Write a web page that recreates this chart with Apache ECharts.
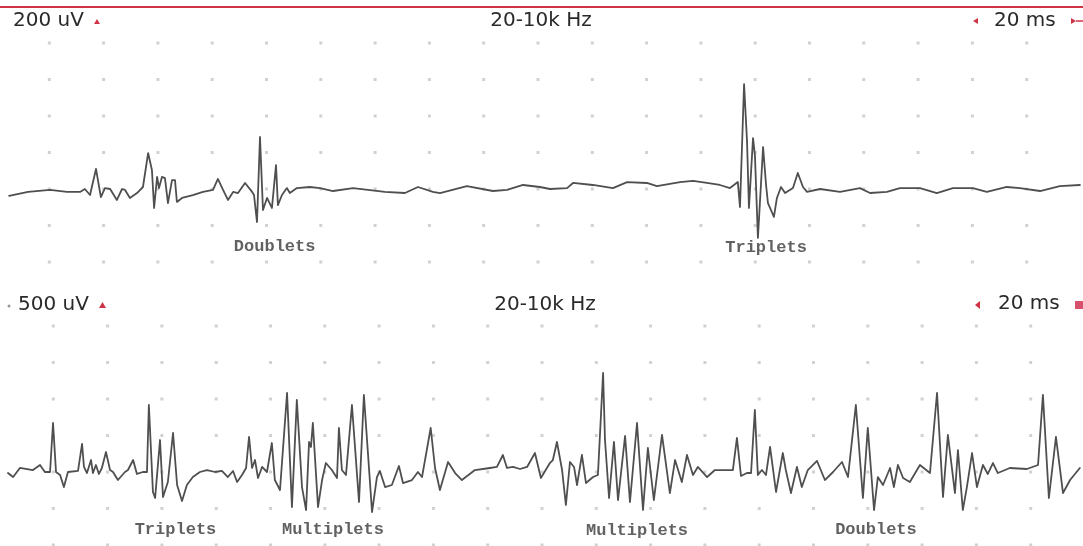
<!DOCTYPE html>
<html>
<head>
<meta charset="utf-8">
<script src="https://cdn.jsdelivr.net/npm/echarts@6/dist/echarts.min.js"></script>
<style>
  html, body { margin: 0; background: #fff; }
  #chart { width: 1083px; height: 546px; }
</style>
</head>
<body>
<div id="chart"></div>
<script>
// upper sweep: [time ms, amplitude uV], 200 uV/div, 20 ms/div
const topTrace = [
  [5.2,-38],[12.2,-16],[20.3,-5],[26.5,-16],[31.3,-16],[33.1,0],[35.0,-33],[37.2,110],[39.0,-44],
  [40.5,5],[42.4,0],[44.9,-60],[46.8,0],[47.9,-5],[49.7,-49],[52.3,-22],[54.5,11],[56.4,197],
  [57.8,104],[58.6,-104],[59.7,66],[60.4,5],[61.5,66],[62.6,60],[63.7,-77],[65.2,49],[66.3,49],
  [67.0,-71],[68.9,-49],[72.9,-33],[76.6,-16],[80.3,-5],[82.1,55],[84.0,-5],[85.8,-60],[87.7,-16],
  [89.5,-22],[92.1,33],[94.7,-16],[95.4,-33],[96.5,-181],[97.6,285],[98.7,-115],[100.2,-49],
  [102.0,-104],[103.5,131],[104.2,-88],[105.7,-33],[107.5,5],[108.6,-22],[111.2,5],[116.0,11],
  [119.7,5],[124.5,-11],[131.9,5],[143.6,-16],[151.0,-22],[155.8,11],[161.3,-16],[163.9,-22],
  [173.8,16],[183.4,-11],[188.6,-5],[194.5,22],[200.7,11],[204.4,0],[210.7,5],[212.9,33],
  [220.2,22],[227.6,5],[232.8,38],[240.1,33],[243.8,16],[252.3,38],[257.1,44],[262.2,33],
  [267.0,22],[270.7,5],[273.6,38],[274.4,-99],[275.9,575],[277.0,258],[277.7,-104],[279.2,279],
  [279.9,186],[281.0,-268],[282.9,230],[284.0,22],[284.7,-77],[286.9,-153],[288.0,-49],[289.5,11],
  [291.0,-22],[293.9,5],[295.7,88],[297.6,11],[299.1,-16],[303.9,0],[311.2,-16],[318.6,5],
  [322.3,-22],[328.5,-16],[333.3,5],[340.7,5],[346.9,-22],[352.8,5],[360.2,5],[365.3,-16],
  [372.7,11],[377.5,5],[384.9,-11],[392.2,16],[399.6,22]
]

// lower sweep: [time ms, amplitude uV], 500 uV/div, 20 ms/div
const bottomTrace = [
  [3.3,-14],[5.2,-69],[7.7,55],[12.5,27],[15.1,96],[16.9,0],[18.8,0],[19.9,671],[21.0,0],
  [22.5,-41],[23.9,-206],[25.4,0],[29.1,14],[30.6,384],[31.3,69],[32.4,-14],[33.9,164],[34.6,-14],
  [35.7,96],[36.8,-27],[37.9,55],[39.4,274],[40.9,27],[42.0,0],[43.8,-110],[46.4,0],[47.5,27],
  [49.4,164],[50.8,-27],[53.0,0],[54.5,0],[55.2,918],[56.7,-274],[57.5,-356],[59.3,438],
  [60.4,-343],[62.2,-137],[64.1,534],[65.6,-178],[67.4,-397],[69.2,-178],[71.4,-69],[74.0,0],
  [76.6,27],[79.6,0],[82.1,14],[84.3,-69],[86.2,14],[87.7,-137],[89.5,-41],[91.0,55],[92.1,480],
  [93.2,55],[94.3,164],[95.4,-82],[96.9,69],[98.7,0],[100.5,397],[101.6,-110],[103.5,-247],
  [106.1,1082],[107.9,-480],[109.7,986],[111.6,-206],[113.1,-521],[114.2,411],[114.9,343],
  [115.6,671],[117.5,-480],[119.0,-110],[120.4,123],[122.6,27],[124.5,-82],[125.2,603],[126.3,27],
  [127.8,-41],[130.0,918],[132.6,-411],[134.4,1055],[137.4,-548],[139.2,-69],[140.3,14],
  [142.2,-206],[144.7,-178],[147.3,82],[148.8,-151],[152.1,-110],[154.3,0],[155.8,-69],[159.0,603],
  [160.6,55],[162.4,-247],[165.4,137],[168.0,-14],[170.5,-110],[175.3,27],[180.8,55],[183.4,69],
  [185.6,233],[187.1,55],[189.3,69],[191.9,41],[194.5,69],[197.4,260],[199.6,-82],[202.9,123],
  [204.0,164],[205.5,411],[207.4,27],[208.8,-452],[210.3,137],[211.8,69],[212.9,-178],[214.7,233],
  [216.2,-151],[218.8,-69],[220.6,-41],[222.5,1356],[223.2,438],[224.7,-356],[226.5,411],
  [228.0,-384],[230.6,493],[232.4,-411],[235.0,671],[237.2,-521],[239.0,329],[241.2,-384],
  [244.2,507],[247.1,-288],[249.0,164],[251.5,-137],[253.4,233],[255.6,-41],[257.4,69],[260.8,-69],
  [263.7,27],[267.4,27],[270.3,27],[271.8,466],[273.3,-55],[275.5,-14],[277.0,-14],[278.4,849],
  [279.5,-41],[281.0,27],[282.5,-41],[284.0,343],[286.2,-274],[288.7,260],[289.8,27],[291.7,-288],
  [293.9,69],[295.7,-206],[297.9,27],[301.3,151],[304.2,-110],[307.2,0],[310.5,137],[312.7,-69],
  [315.6,918],[318.2,-356],[320.0,603],[322.3,-521],[323.7,-69],[325.6,-178],[328.2,55],
  [329.6,-206],[331.1,96],[333.0,-82],[335.5,-137],[339.2,96],[342.9,-14],[345.5,1082],
  [347.7,-343],[349.5,507],[352.1,-288],[353.2,301],[355.0,-521],[356.5,-206],[358.4,260],
  [360.2,-206],[362.4,96],[364.2,-27],[366.1,123],[367.9,-14],[372.3,55],[378.6,41],[382.7,96],
  [384.5,1055],[386.7,-356],[389.3,480],[391.9,-288],[394.5,-110],[398.1,55]
]

const timeTicks = [20, 40, 60, 80, 100, 120, 140, 160, 180, 200, 220, 240, 260, 280, 300, 320, 340, 360, 380]
const topLevels = [800, 600, 400, 200, 0, -200, -400]
const bottomLevels = [2000, 1500, 1000, 500, 0, -500, -1000]

// annotations: [text, time ms, uV]
const topNotes = [['Doublets', 103, -318], ['Triplets', 284, -323]]
const bottomNotes = [['Triplets', 65, -795], ['Multiplets', 123, -795], ['Multiplets', 235, -808], ['Doublets', 323, -795]]

const headerFont = 'DejaVu Sans'
const noteFont = 'Liberation Mono'

function dotGrid(levels) {
  const pts = []
  levels.forEach(v => timeTicks.forEach(t => pts.push([t, v])))
  return pts
}

function traceSeries(idx, data) {
  return {
    type: 'line',
    xAxisIndex: idx,
    yAxisIndex: idx,
    data: data,
    symbol: 'none',
    z: 3,
    lineStyle: { color: '#4f4f4f', width: 1.8, join: 'round', cap: 'round' }
  }
}

function dotSeries(idx, levels) {
  return {
    type: 'scatter',
    xAxisIndex: idx,
    yAxisIndex: idx,
    data: dotGrid(levels),
    symbol: 'rect',
    symbolSize: 3,
    silent: true,
    z: 1,
    itemStyle: { color: '#c6c6c6' }
  }
}

function noteSeries(idx, notes) {
  return {
    type: 'scatter',
    xAxisIndex: idx,
    yAxisIndex: idx,
    data: notes.map(n => ({ name: n[0], value: [n[1], n[2]] })),
    symbolSize: 1,
    silent: true,
    z: 4,
    itemStyle: { color: 'rgba(0,0,0,0)' },
    label: {
      show: true,
      position: 'inside',
      formatter: p => p.name,
      fontFamily: noteFont,
      fontWeight: 'bold',
      fontSize: 17,
      color: '#3a3a3a'
    }
  }
}

function headerText(x, y, text, align) {
  return {
    type: 'text',
    x: x,
    y: y,
    style: {
      text: text,
      fill: '#2a2a2a',
      font: '20px "' + headerFont + '"',
      align: align || 'left',
      verticalAlign: 'middle'
    }
  }
}

const red = '#cf3346'

const chart = echarts.init(document.getElementById('chart'))
chart.setOption({
  animation: false,
  backgroundColor: '#fff',
  grid: [
    { left: -5, top: 6.5, width: 1086, height: 292, outerBoundsMode: 'none' },
    { left: -1, top: 289.5, width: 1086, height: 292, outerBoundsMode: 'none' }
  ],
  xAxis: [
    { gridIndex: 0, type: 'value', min: 0, max: 400, show: false },
    { gridIndex: 1, type: 'value', min: 0, max: 400, show: false }
  ],
  yAxis: [
    { gridIndex: 0, type: 'value', min: -600, max: 1000, show: false },
    { gridIndex: 1, type: 'value', min: -1500, max: 2500, show: false }
  ],
  graphic: [
    { type: 'line', shape: { x1: 0, y1: 7, x2: 1083, y2: 7 }, style: { stroke: red, lineWidth: 2 } },
    headerText(13, 21, '200 uV'),
    headerText(541, 21, '20-10k Hz', 'center'),
    headerText(994, 21, '20 ms'),
    { type: 'polygon', shape: { points: [[94, 24], [100, 24], [97, 19]] }, style: { fill: red } },
    { type: 'polygon', shape: { points: [[973, 21], [978, 18], [978, 24]] }, style: { fill: red } },
    { type: 'polygon', shape: { points: [[1071, 18], [1076, 21], [1071, 24]] }, style: { fill: red } },
    { type: 'line', shape: { x1: 1076, y1: 21, x2: 1083, y2: 21 }, style: { stroke: red, lineWidth: 1.5 } },

    { type: 'circle', shape: { cx: 9, cy: 306, r: 1.5 }, style: { fill: '#999' } },
    headerText(18, 305, '500 uV'),
    headerText(545, 305, '20-10k Hz', 'center'),
    headerText(998, 304, '20 ms'),
    { type: 'polygon', shape: { points: [[99, 308], [106, 308], [102.5, 302]] }, style: { fill: red } },
    { type: 'polygon', shape: { points: [[975, 305], [980, 301], [980, 309]] }, style: { fill: red } },
    { type: 'rect', shape: { x: 1075, y: 301, width: 8, height: 8 }, style: { fill: '#d8506a' } }
  ],
  series: [
    dotSeries(0, topLevels),
    dotSeries(1, bottomLevels),
    traceSeries(0, topTrace),
    traceSeries(1, bottomTrace),
    noteSeries(0, topNotes),
    noteSeries(1, bottomNotes)
  ]
})
</script>
</body>
</html>
